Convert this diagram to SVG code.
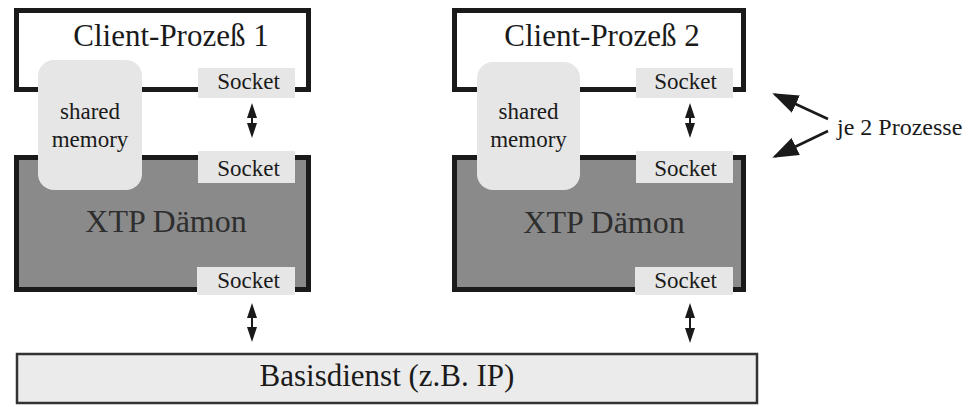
<svg xmlns="http://www.w3.org/2000/svg" width="974" height="407" viewBox="0 0 974 407">
  <style>
    text { font-family: "Liberation Serif", "Times New Roman", serif; fill: #1a1a1a; text-anchor: middle; }
    .frame { fill: #ffffff; stroke: #1a1a1a; stroke-width: 5; }
    .daemon { fill: #8a8a8a; stroke: #1a1a1a; stroke-width: 5; }
    .light { fill: #e6e6e6; stroke: none; }
    .basis { fill: #ebebeb; stroke: #333333; stroke-width: 2.5; }
    .title { font-size: 31px; }
    .dtitle { font-size: 32px; fill: #2e2e2e; }
    .small { font-size: 23px; }
    .note { font-size: 24px; text-anchor: start; }
    .conn { stroke: #1a1a1a; stroke-width: 2; fill: none; }
    .ann { stroke: #1a1a1a; stroke-width: 2.5; fill: none; }
  </style>
  <defs>
    <marker id="sa" viewBox="0 0 15 10" refX="12" refY="5" markerWidth="15" markerHeight="10" markerUnits="userSpaceOnUse" orient="auto-start-reverse">
      <path d="M0,0 L15,5 L0,10 z" fill="#1a1a1a"/>
    </marker>
    <marker id="ba" viewBox="0 0 26 19" refX="23" refY="9.5" markerWidth="26" markerHeight="19" markerUnits="userSpaceOnUse" orient="auto">
      <path d="M0,0 L26,9.5 L0,19 z" fill="#1a1a1a"/>
    </marker>
  </defs>

  <g id="client1">
    <rect class="frame" x="16.5" y="10.5" width="292" height="79"/>
    <text class="title" x="171" y="46">Client-Prozeß 1</text>
  </g>
  <g id="daemon1">
    <rect class="daemon" x="16.5" y="157.5" width="292" height="132"/>
    <text class="dtitle" x="166" y="232">XTP Dämon</text>
  </g>
  <g id="shm1">
    <rect class="light" x="38" y="60" width="104" height="130" rx="16"/>
    <text class="small" x="90" y="119">shared</text>
    <text class="small" x="90" y="147">memory</text>
  </g>
  <g id="socket1a">
    <rect class="light" x="198" y="68" width="97" height="30"/>
    <text class="small" x="248.5" y="89">Socket</text>
  </g>
  <g id="socket1b">
    <rect class="light" x="198" y="151" width="97" height="32"/>
    <text class="small" x="248.5" y="176">Socket</text>
  </g>
  <g id="socket1c">
    <rect class="light" x="197" y="267" width="98" height="28"/>
    <text class="small" x="248.5" y="288">Socket</text>
  </g>

  <g id="client2">
    <rect class="frame" x="454.5" y="10.5" width="289" height="79"/>
    <text class="title" x="602" y="46">Client-Prozeß 2</text>
  </g>
  <g id="daemon2">
    <rect class="daemon" x="454.5" y="157.5" width="289" height="132"/>
    <text class="dtitle" x="604" y="233">XTP Dämon</text>
  </g>
  <g id="shm2">
    <rect class="light" x="477" y="62" width="103" height="128" rx="16"/>
    <text class="small" x="528.5" y="119">shared</text>
    <text class="small" x="528.5" y="147">memory</text>
  </g>
  <g id="socket2a">
    <rect class="light" x="636" y="68" width="97" height="30"/>
    <text class="small" x="685.5" y="89">Socket</text>
  </g>
  <g id="socket2b">
    <rect class="light" x="636" y="151" width="97" height="32"/>
    <text class="small" x="685.5" y="176">Socket</text>
  </g>
  <g id="socket2c">
    <rect class="light" x="635" y="267" width="98" height="28"/>
    <text class="small" x="685.5" y="288">Socket</text>
  </g>

  <g id="basis">
    <rect class="basis" x="17" y="354" width="740" height="49"/>
    <text class="title" x="387" y="386">Basisdienst (z.B. IP)</text>
  </g>

  <g id="annotation">
    <text class="note" x="837" y="135">je 2 Prozesse</text>
  </g>

  <g id="connectors">
    <line class="conn" x1="252" y1="106" x2="252" y2="135" marker-start="url(#sa)" marker-end="url(#sa)"/>
    <line class="conn" x1="252" y1="306" x2="252" y2="339" marker-start="url(#sa)" marker-end="url(#sa)"/>
    <line class="conn" x1="690" y1="106" x2="690" y2="135" marker-start="url(#sa)" marker-end="url(#sa)"/>
    <line class="conn" x1="690" y1="306" x2="690" y2="340" marker-start="url(#sa)" marker-end="url(#sa)"/>
    <line class="ann" x1="828" y1="119" x2="775" y2="94.5" marker-end="url(#ba)"/>
    <line class="ann" x1="828" y1="131" x2="775" y2="156.5" marker-end="url(#ba)"/>
  </g>
</svg>
